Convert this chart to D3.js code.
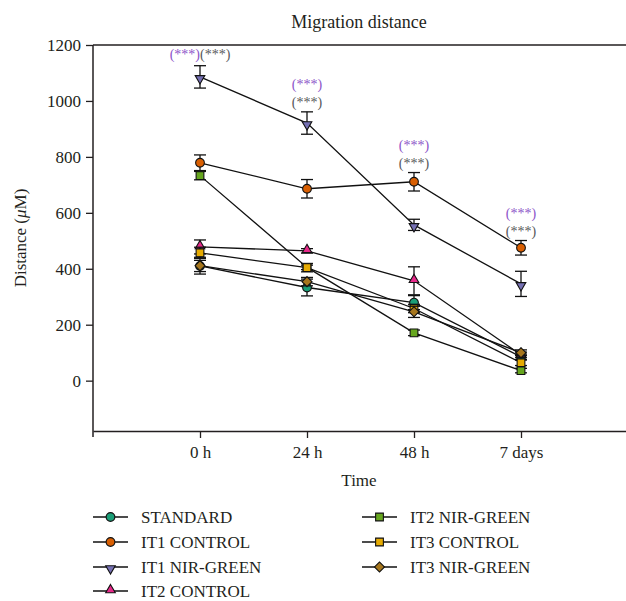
<!DOCTYPE html>
<html lang="en">
<head>
<meta charset="UTF-8">
<title>Migration distance</title>
<style>
  body { margin: 0; background: #fff; }
  svg { display: block; }
  text { font-family: 'Liberation Serif', 'DejaVu Serif', serif; }
</style>
</head>
<body>
<svg id="chart" width="626" height="601"></svg>
<script src="https://d3js.org/d3.v7.min.js"></script>
<script>
// data
const timeLabels = ["0 h", "24 h", "48 h", "7 days"];
const seriesNames = ["STANDARD", "IT1 CONTROL", "IT1 NIR-GREEN", "IT2 CONTROL", "IT2 NIR-GREEN", "IT3 CONTROL", "IT3 NIR-GREEN"];
const seriesColors = ["#1b9e77", "#d95f02", "#7570b3", "#e7298a", "#66a61e", "#e6ab02", "#a6761d"];
const seriesShapes = ["circle", "circle", "down", "up", "square", "square", "diamond"];

const standard     = [410, 333, 279, 85];
const it1Control   = [779, 686, 711, 475];
const it1NirGreen  = [1086, 921, 557, 346];
const it2Control   = [478, 464, 357, 92];
const it2NirGreen  = [733, 405, 171, 36];
const it3Control   = [457, 404, 258, 64];
const it3NirGreen  = [411, 354, 246, 100];

const standardErr    = [20, 30, 25, 10];
const it1ControlErr  = [28, 33, 33, 26];
const it1NirGreenErr = [40, 40, 20, 45];
const it2ControlErr  = [25, 8, 50, 10];
const it2NirGreenErr = [15, 8, 10, 8];
const it3ControlErr  = [20, 15, 15, 10];
const it3NirGreenErr = [30, 15, 20, 10];

const yTicks = [0, 200, 400, 600, 800, 1000, 1200];

// significance marks: time index, layout ("side" = side by side, "stack" = stacked)
const sigTimes  = [0, 1, 2, 3];
const sigLayout = ["side", "stack", "stack", "stack"];
const sigText   = "(***)";

const values = [standard, it1Control, it1NirGreen, it2Control, it2NirGreen, it3Control, it3NirGreen];
const errors = [standardErr, it1ControlErr, it1NirGreenErr, it2ControlErr, it2NirGreenErr, it3ControlErr, it3NirGreenErr];

const ink = "#231f20";
const purple = "#8c55c9";
const grey = "#58585a";

const svg = d3.select("#chart");

const x = d3.scaleLinear().domain([-1, 4]).range([93, 628]);
const y = d3.scaleLinear().domain([-180, 1200]).range([431, 45]);

// axes
const yAxis = svg.append("g")
  .attr("transform", `translate(${x(-1)},0)`)
  .call(d3.axisLeft(y).tickValues(yTicks).tickFormat(d3.format("d")).tickSize(7).tickSizeOuter(0).tickPadding(5));
yAxis.select(".domain").remove();
svg.append("line")
  .attr("x1", x(-1)).attr("x2", x(-1))
  .attr("y1", y(1200)).attr("y2", y(-180) + 6)
  .attr("stroke", ink).attr("stroke-width", 1.5);

const xAxis = svg.append("g")
  .attr("transform", `translate(0,${y(-180)})`)
  .call(d3.axisBottom(x).tickValues([0, 1, 2, 3]).tickFormat(i => timeLabels[i]).tickSize(7).tickSizeOuter(0).tickPadding(8));
xAxis.select(".domain").attr("stroke", ink).attr("stroke-width", 1.5);

// top frame
svg.append("line")
  .attr("x1", x(-1)).attr("x2", 626)
  .attr("y1", y(1200)).attr("y2", y(1200))
  .attr("stroke", ink).attr("stroke-width", 1.5);

svg.selectAll(".tick line").attr("stroke", ink).attr("stroke-width", 1.3);
svg.selectAll(".tick text")
  .style("font-family", "'Liberation Serif', serif")
  .style("font-size", "17px")
  .style("fill", ink);

// titles (centred over the plot area)
svg.append("text").attr("x", 359).attr("y", 28).attr("text-anchor", "middle")
  .style("font-size", "18px").style("fill", ink).text("Migration distance");
svg.append("text").attr("x", 359).attr("y", 486).attr("text-anchor", "middle")
  .style("font-size", "17px").style("fill", ink).text("Time");
svg.append("text")
  .attr("transform", `translate(26,${y(510)}) rotate(-90)`)
  .attr("text-anchor", "middle")
  .style("font-size", "17px").style("fill", ink)
  .html("Distance (<tspan font-style='italic'>μ</tspan>M)");

// marker shapes
function markerPath(shape) {
  if (shape === "circle") return d3.symbol(d3.symbolCircle, 60)();
  if (shape === "square") return d3.symbol(d3.symbolSquare, 60)();
  if (shape === "diamond") return d3.symbol(d3.symbolSquare, 50)();
  return d3.symbol(d3.symbolTriangle, 40)();
}
function markerRot(shape) {
  if (shape === "down") return " rotate(180)";
  if (shape === "diamond") return " rotate(45)";
  return "";
}
function markerShift(shape) {
  return shape === "down" ? 1.5 : (shape === "up" ? -1 : 0);
}

const line = d3.line().x((d, i) => x(i)).y(d => y(d));

// lines
values.forEach(vals => {
  svg.append("path").datum(vals)
    .attr("d", line).attr("fill", "none")
    .attr("stroke", "#111").attr("stroke-width", 1.3);
});

// error bars and markers
values.forEach((vals, s) => {
  const g = svg.append("g");
  vals.forEach((v, i) => {
    const e = errors[s][i];
    const eg = g.append("g").attr("stroke", "#111").attr("stroke-width", 1.3);
    eg.append("line").attr("x1", x(i)).attr("x2", x(i)).attr("y1", y(v - e)).attr("y2", y(v + e));
    eg.append("line").attr("x1", x(i) - 6).attr("x2", x(i) + 6).attr("y1", y(v - e)).attr("y2", y(v - e));
    eg.append("line").attr("x1", x(i) - 6).attr("x2", x(i) + 6).attr("y1", y(v + e)).attr("y2", y(v + e));
  });
  const sh = seriesShapes[s];
  g.selectAll("path.mk").data(vals).join("path")
    .attr("class", "mk")
    .attr("d", markerPath(sh))
    .attr("transform", (d, i) => `translate(${x(i)},${y(d) + markerShift(sh)})` + markerRot(sh))
    .attr("fill", seriesColors[s])
    .attr("stroke", "#111").attr("stroke-width", 1.1);
});

// significance labels above IT1 series
function sig(xp, yp, anchor, color) {
  svg.append("text").attr("x", xp).attr("y", yp).attr("text-anchor", anchor)
    .style("font-size", "14px").style("fill", color).text(sigText);
}
sigTimes.forEach((t, k) => {
  const top = y(Math.max(it1Control[t] + it1ControlErr[t], it1NirGreen[t] + it1NirGreenErr[t]));
  if (sigLayout[k] === "side") {
    sig(x(t), top - 7, "end", purple);
    sig(x(t), top - 7, "start", grey);
  } else {
    sig(x(t), top - 5, "middle", grey);
    sig(x(t), top - 23, "middle", purple);
  }
});

// legend
const legendCols = [93, 362];
const legendRows = [517, 542, 567, 591];
seriesNames.forEach((name, s) => {
  const col = s < 4 ? 0 : 1;
  const row = s < 4 ? s : s - 4;
  const lg = svg.append("g").attr("transform", `translate(${legendCols[col]},${legendRows[row]})`);
  lg.append("line").attr("x1", 0).attr("x2", 35).attr("y1", 0).attr("y2", 0)
    .attr("stroke", "#111").attr("stroke-width", 1.3);
  const sh = seriesShapes[s];
  lg.append("path").attr("d", markerPath(sh))
    .attr("transform", `translate(17.5,${markerShift(sh)})` + markerRot(sh))
    .attr("fill", seriesColors[s]).attr("stroke", "#111").attr("stroke-width", 1.1);
  lg.append("text").attr("x", 48).attr("y", 5.5)
    .style("font-size", "17px").style("fill", ink).text(name);
});
</script>
</body>
</html>
